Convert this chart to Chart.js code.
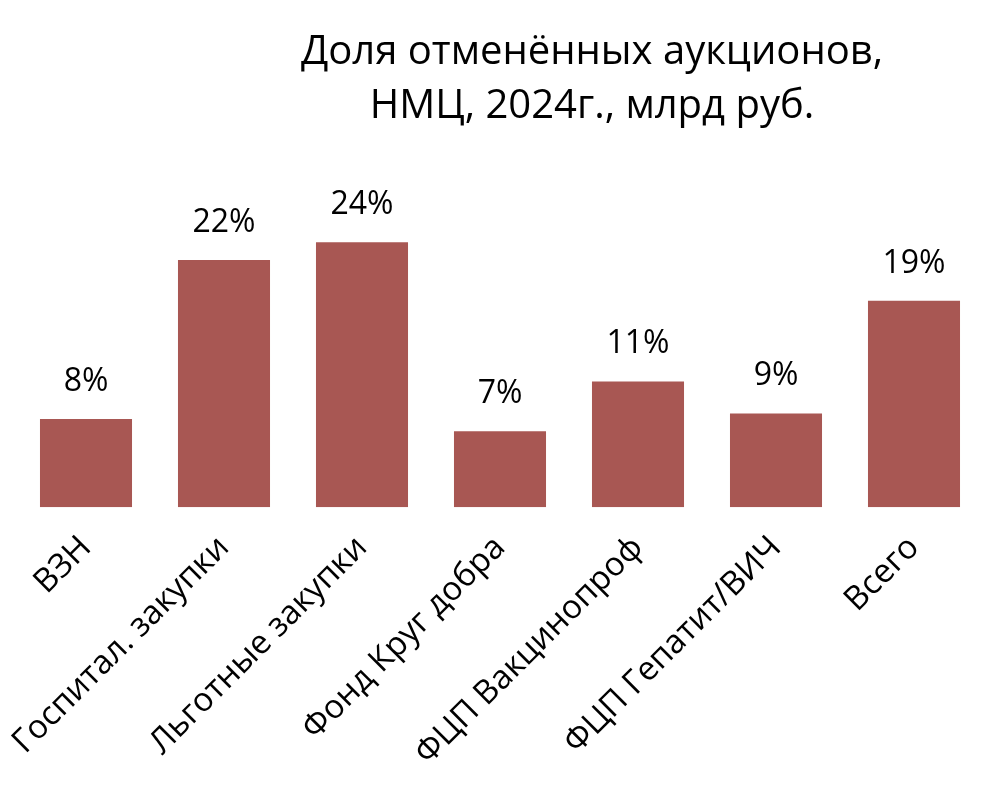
<!DOCTYPE html>
<html>
<head>
<meta charset="utf-8">
<script src="https://cdn.jsdelivr.net/npm/chart.js@4"></script>
<style>
  html, body { margin: 0; padding: 0; background: #fff; }
  #wrap { position: relative; width: 1006px; height: 804px; }
  #title {
    position: absolute; left: 242px; width: 700px; top: 22px;
    text-align: center; font-family: "Open Sans", sans-serif;
    font-size: 40px; line-height: 54px; color: #000;
  }
</style>
</head>
<body>
<div id="wrap">
  <canvas id="chart" width="1006" height="804"></canvas>
  <div id="title">Доля отменённых аукционов,<br>НМЦ, 2024г., млрд руб.</div>
</div>
<script>
// Categories and values (share of cancelled auctions, %)
const categories = ['ВЗН', 'Госпитал. закупки', 'Льготные закупки', 'Фонд Круг добра',
                    'ФЦП Вакцинопроф', 'ФЦП Гепатит/ВИЧ', 'Всего'];
const shares = [8.0, 22.4, 24.0, 6.9, 11.4, 8.5, 18.7];
const shareLabels = ['8%', '22%', '24%', '7%', '11%', '9%', '19%'];

const barColor = '#a85753';

// draws the % labels above each bar
const valueLabels = {
    id: 'valueLabels',
    afterDatasetsDraw(chart) {
        const { ctx } = chart;
        const meta = chart.getDatasetMeta(0);
        ctx.save();
        ctx.font = '32px "Open Sans"';
        ctx.fillStyle = '#000';
        ctx.textAlign = 'center';
        ctx.textBaseline = 'alphabetic';
        meta.data.forEach((bar, i) => {
            ctx.fillText(shareLabels[i], bar.x, bar.y - 28);
        });
        ctx.restore();
    }
};

new Chart(document.getElementById('chart'), {
    type: 'bar',
    plugins: [valueLabels],
    data: {
        labels: categories,
        datasets: [{
            data: shares,
            backgroundColor: barColor,
            borderWidth: 0,
            barPercentage: 0.667,
            categoryPercentage: 1.0
        }]
    },
    options: {
        responsive: false,
        animation: false,
        layout: { padding: { top: 176, left: 17, right: 23, bottom: 10 } },
        plugins: {
            legend: { display: false },
            title: { display: false },
            tooltip: { enabled: false }
        },
        scales: {
            x: {
                grid: { display: false, drawTicks: false },
                border: { display: false },
                ticks: {
                    color: '#000',
                    font: { family: 'Open Sans', size: 33 },
                    minRotation: 45,
                    maxRotation: 45,
                    padding: 21,
                    autoSkip: false
                }
            },
            y: {
                display: false,
                min: 0,
                max: 30
            }
        }
    }
});
</script>
</body>
</html>
